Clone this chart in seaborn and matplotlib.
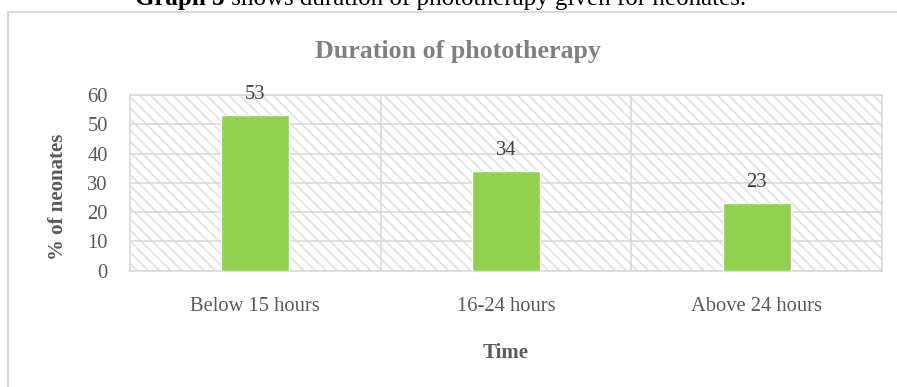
import matplotlib
matplotlib.use("Agg")
import matplotlib.pyplot as plt
from matplotlib.patches import Rectangle
import seaborn as sns
import pandas as pd

# Data
categories = ["Below 15 hours", "16-24 hours", "Above 24 hours"]
percent_neonates = [53, 34, 23]
y_ticks = [0, 10, 20, 30, 40, 50, 60]

sns.set_style("white")
plt.rcParams["font.family"] = ["Liberation Serif", "DejaVu Serif"]
plt.rcParams["hatch.linewidth"] = 1.4

GRID = "#d9d9d9"
TEXT = "#595959"
BAR = "#92D050"

W, H = 897, 387
fig = plt.figure(figsize=(W / 100, H / 100), dpi=100)
fig.patch.set_facecolor("white")

left, right, top, bottom = 130, 882, 95, 270.7
ax = fig.add_axes([left / W, 1 - bottom / H, (right - left) / W, (bottom - top) / H])

df = pd.DataFrame({"Time": categories, "pct": percent_neonates})

# hatched plot background
bg = Rectangle((0, 0), 1, 1, transform=ax.transAxes, facecolor="white",
               edgecolor="#e4e4e4", hatch="\\\\\\", lw=0, zorder=0)
ax.add_patch(bg)

sns.barplot(data=df, x="Time", y="pct", color=BAR, width=0.27,
            saturation=1, ax=ax, zorder=3)

ax.set_xlim(-0.5, len(categories) - 0.5)
ax.set_ylim(0, 60)
ax.set_yticks(y_ticks)
ax.set_facecolor("none")

# grid lines
for yv in y_ticks:
    ax.axhline(yv, color=GRID, lw=1.2, zorder=1)
for xv in [i + 0.5 for i in range(len(categories) - 1)]:
    ax.axvline(xv, color=GRID, lw=1.2, zorder=1)
for s in ax.spines.values():
    s.set_color(GRID)
    s.set_linewidth(1.2)
    s.set_visible(True)

ax.tick_params(axis="both", length=0, labelsize=14.8, labelcolor=TEXT)
ax.tick_params(axis="y", pad=16)
ax.tick_params(axis="x", pad=19)

# value labels
for i, v in enumerate(percent_neonates):
    ax.annotate(str(v), (i, v), xytext=(0, 15), textcoords="offset points",
                ha="center", va="center", fontsize=14.8, color="#404040")

ax.set_ylabel("% of neonates", fontsize=15, fontweight="bold", color=TEXT)
ax.yaxis.set_label_coords(-0.083, 0.42)
ax.set_xlabel("Time", fontsize=15, fontweight="bold", color=TEXT)
ax.xaxis.set_label_coords(0.5, -0.41)

# chart title
fig.text(458 / W, 1 - 58 / H, "Duration of phototherapy", ha="center",
         va="baseline", fontsize=18.6, fontweight="bold", color="#808080")

# outer chart frame
frame = Rectangle((8 / W, -0.1), 1.2, (1 - 12.5 / H) + 0.1, transform=fig.transFigure,
                  fill=False, edgecolor=GRID, lw=1.5, clip_on=False)
fig.patches.append(frame)

# caption above the chart
renderer = fig.canvas.get_renderer()
t1 = fig.text(135 / W, 1 - 5 / H, "Graph 3", ha="left", va="baseline",
              fontsize=18, fontweight="bold", color="black")
bb = t1.get_window_extent(renderer=renderer)
fig.text(bb.x1 / W, 1 - 5 / H, " shows duration of phototherapy given for neonates.",
         ha="left", va="baseline", fontsize=18, color="black")

fig.savefig("out.png", dpi=100)
